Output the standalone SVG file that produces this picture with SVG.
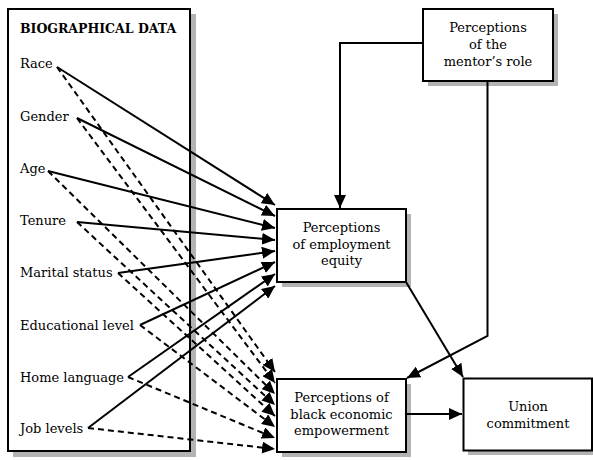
<svg xmlns="http://www.w3.org/2000/svg" width="593" height="460" viewBox="0 0 593 460">
<style>
.box{fill:#fff;stroke:#000;stroke-width:2}
.sh{fill:#b3b3b3}
.t{font-family:"DejaVu Serif","Liberation Serif",serif;font-size:13px;fill:#000}
.c{text-anchor:middle}
.b{font-weight:bold;font-size:12.5px}
.ln{fill:none;stroke:#000;stroke-width:2}
.d{stroke-dasharray:6,4}
</style>
<defs>
<marker id="ah" viewBox="0 0 13 12" refX="13" refY="6" markerWidth="13" markerHeight="12" orient="auto" markerUnits="userSpaceOnUse">
<path d="M0,0 L13,6 L0,12 z" fill="#000"/>
</marker>
</defs>
<g id="biographical">
<rect class="sh" x="13" y="14" width="183" height="443"/>
<rect class="box" x="8" y="9" width="182" height="442"/>
<text class="t b" x="20" y="33">BIOGRAPHICAL DATA</text>
<text class="t" x="20" y="68">Race</text>
<text class="t" x="20" y="121">Gender</text>
<text class="t" x="20" y="173">Age</text>
<text class="t" x="20" y="225">Tenure</text>
<text class="t" x="20" y="277">Marital status</text>
<text class="t" x="20" y="330">Educational level</text>
<text class="t" x="20" y="382">Home language</text>
<text class="t" x="20" y="433">Job levels</text>
</g>
<g id="mentor">
<rect class="sh" x="428" y="14" width="130" height="72"/>
<rect class="box" x="423" y="9" width="130" height="72"/>
<text class="t c" x="488" y="32">Perceptions</text>
<text class="t c" x="488" y="49">of the</text>
<text class="t c" x="488" y="66">mentor’s role</text>
</g>
<g id="equity">
<rect class="sh" x="282" y="214" width="129" height="73"/>
<rect class="box" x="277" y="209" width="129" height="73"/>
<text class="t c" x="341.5" y="232">Perceptions</text>
<text class="t c" x="341.5" y="248.5">of employment</text>
<text class="t c" x="341.5" y="265">equity</text>
</g>
<g id="bee">
<rect class="sh" x="282" y="384" width="129" height="73"/>
<rect class="box" x="277" y="379" width="129" height="73"/>
<text class="t c" x="341.5" y="402">Perceptions of</text>
<text class="t c" x="341.5" y="419">black economic</text>
<text class="t c" x="341.5" y="435">empowerment</text>
</g>
<g id="union">
<rect class="sh" x="468" y="383" width="130" height="72"/>
<rect class="box" x="463.5" y="378.5" width="128.5" height="72"/>
<text class="t c" x="528" y="411">Union</text>
<text class="t c" x="528" y="428">commitment</text>
</g>
<g id="connectors">
<path class="ln" d="M57,67 L275,205" marker-end="url(#ah)"/>
<path class="ln" d="M77,118 L275,216" marker-end="url(#ah)"/>
<path class="ln" d="M48,171 L275,228" marker-end="url(#ah)"/>
<path class="ln" d="M77,222 L275,240" marker-end="url(#ah)"/>
<path class="ln" d="M118,273 L275,251" marker-end="url(#ah)"/>
<path class="ln" d="M140,325 L275,262" marker-end="url(#ah)"/>
<path class="ln" d="M128,377 L275,274" marker-end="url(#ah)"/>
<path class="ln" d="M88,428 L275,286" marker-end="url(#ah)"/>
<path class="ln d" d="M57,67 L275,372" marker-end="url(#ah)"/>
<path class="ln d" d="M77,118 L275,383" marker-end="url(#ah)"/>
<path class="ln d" d="M48,171 L275,394" marker-end="url(#ah)"/>
<path class="ln d" d="M77,222 L275,405" marker-end="url(#ah)"/>
<path class="ln d" d="M118,273 L275,416" marker-end="url(#ah)"/>
<path class="ln d" d="M140,325 L275,427" marker-end="url(#ah)"/>
<path class="ln d" d="M128,377 L275,438" marker-end="url(#ah)"/>
<path class="ln d" d="M88,428 L275,449" marker-end="url(#ah)"/>
<path class="ln" d="M423,43 L340,43 L340,208" marker-end="url(#ah)"/>
<path class="ln" d="M487.5,81 L487.5,336 L407,378" marker-end="url(#ah)"/>
<path class="ln" d="M406,282 L463,377" marker-end="url(#ah)"/>
<path class="ln" d="M406,414 L462,414" marker-end="url(#ah)"/>
</g>
</svg>
